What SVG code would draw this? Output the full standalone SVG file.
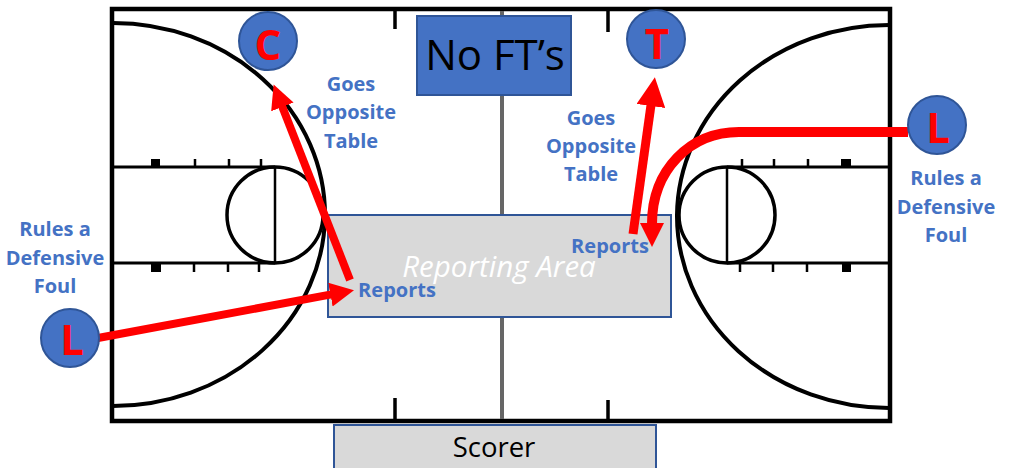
<svg xmlns="http://www.w3.org/2000/svg" width="1011" height="468" viewBox="0 0 1011 468">
<style>
.court{fill:none;stroke:#000;stroke-width:3.5}
.thin{fill:none;stroke:#000;stroke-width:2.5}
.arc{fill:none;stroke:#000;stroke-width:4}
.box{fill:#000}
.ball{fill:#4472c4;stroke:#2f5597;stroke-width:2}
.lbl{font-family:"Open Sans","Noto Sans",sans-serif;font-weight:700;font-size:20px;fill:#4472c4;text-anchor:middle}
.ltr{font-family:"Open Sans","Noto Sans",sans-serif;font-weight:700;font-size:42px;fill:#f00;text-anchor:middle}
.blk{font-family:"Open Sans","Noto Sans",sans-serif;fill:#000;text-anchor:middle}
.red{fill:none;stroke:#f00;stroke-width:8}
</style>
<defs>
<marker id="ah" markerUnits="userSpaceOnUse" markerWidth="26" markerHeight="26" refX="1" refY="12" orient="auto"><path d="M0 0L24 12L0 24z" fill="#f00"/></marker>
<marker id="ahT" markerUnits="userSpaceOnUse" markerWidth="31" markerHeight="31" refX="1" refY="14.5" orient="auto"><path d="M0 0L29 14.5L0 29z" fill="#f00"/></marker>
</defs>
<g id="court">
<rect x="112" y="9" width="778" height="412" fill="#fff" stroke="#000" stroke-width="4.5"/>
<path d="M502 11V419" stroke="#666" stroke-width="4" fill="none"/>
<path d="M395 11V29M395 398V420M608 11V32M608 400V420" stroke="#000" stroke-width="3.5" fill="none"/>
<path class="arc" d="M113 23A212 192 0 0 1 325 215A212 192 0 0 1 113 406"/>
<path class="arc" d="M889 25A212 192 0 0 0 677 215A212 192 0 0 0 889 408"/>
<path class="court" style="stroke-width:3" d="M113 167H275M113 263H275M727 167H889M727 263H889"/>
<circle class="court" cx="275" cy="215" r="48"/>
<circle class="court" cx="727" cy="215" r="48"/>
<path class="thin" d="M275 167V263M727 167V263M195 159V167M229 159V167M261 159V167M194 263V272M228 263V272M259 263V272M742 159V167M774 159V167M808 159V167M740 263V272M773 263V272M807 263V272"/>
<path class="box" d="M151 159h9v8h-9zM151 263h10v9h-10zM841 159h10v8h-10zM842 263h9v9h-9z"/>
</g>
<g id="no-fts"><rect x="417" y="16" width="154" height="79" fill="#4472c4" stroke="#2f5597" stroke-width="2"/><text class="blk" x="495" y="70" font-size="42">No FT’s</text></g>
<g id="reporting-area"><rect x="328" y="215" width="343" height="102" fill="#d9d9d9" stroke="#2f5597" stroke-width="2"/><text x="499" y="277" font-family="Open Sans, Noto Sans, sans-serif" font-style="italic" font-size="29.5" fill="#fff" text-anchor="middle">Reporting Area</text></g>
<g id="scorer"><rect x="334" y="425" width="322" height="50" fill="#d9d9d9" stroke="#2f5597" stroke-width="2"/><text class="blk" x="494" y="457" font-size="27.5">Scorer</text></g>
<g id="connectors">
<path class="red" marker-end="url(#ah)" d="M350 280L282 106"/>
<path class="red" style="stroke-width:9" marker-end="url(#ahT)" d="M633 234L651 105"/>
<path class="red" marker-end="url(#ah)" d="M98 338L331.4 294.4"/>
<path class="red" style="stroke-width:10" marker-end="url(#ah)" d="M908 132H739C690 132 652 170 652 224"/>
</g>
<g id="ref-c"><circle class="ball" cx="268" cy="41" r="29"/><text class="ltr" x="268" y="60">C</text></g>
<g id="ref-t"><circle class="ball" cx="656" cy="39" r="29"/><text class="ltr" x="657" y="59">T</text></g>
<g id="ref-l-right"><circle class="ball" cx="937" cy="125" r="29"/><text class="ltr" x="938" y="143">L</text></g>
<g id="ref-l-left"><circle class="ball" cx="70" cy="338" r="29"/><text class="ltr" x="72" y="355">L</text></g>
<g id="labels">
<text class="lbl" x="351" y="91">Goes</text><text class="lbl" x="351" y="119">Opposite</text><text class="lbl" x="351" y="148">Table</text>
<text class="lbl" x="591" y="125">Goes</text><text class="lbl" x="591" y="153">Opposite</text><text class="lbl" x="591" y="181">Table</text>
<text class="lbl" x="946" y="185">Rules a</text><text class="lbl" x="946" y="214">Defensive</text><text class="lbl" x="946" y="242">Foul</text>
<text class="lbl" x="55" y="236">Rules a</text><text class="lbl" x="55" y="265">Defensive</text><text class="lbl" x="55" y="293">Foul</text>
<text class="lbl" x="397" y="297">Reports</text><text class="lbl" x="610" y="253">Reports</text>
</g>
</svg>
